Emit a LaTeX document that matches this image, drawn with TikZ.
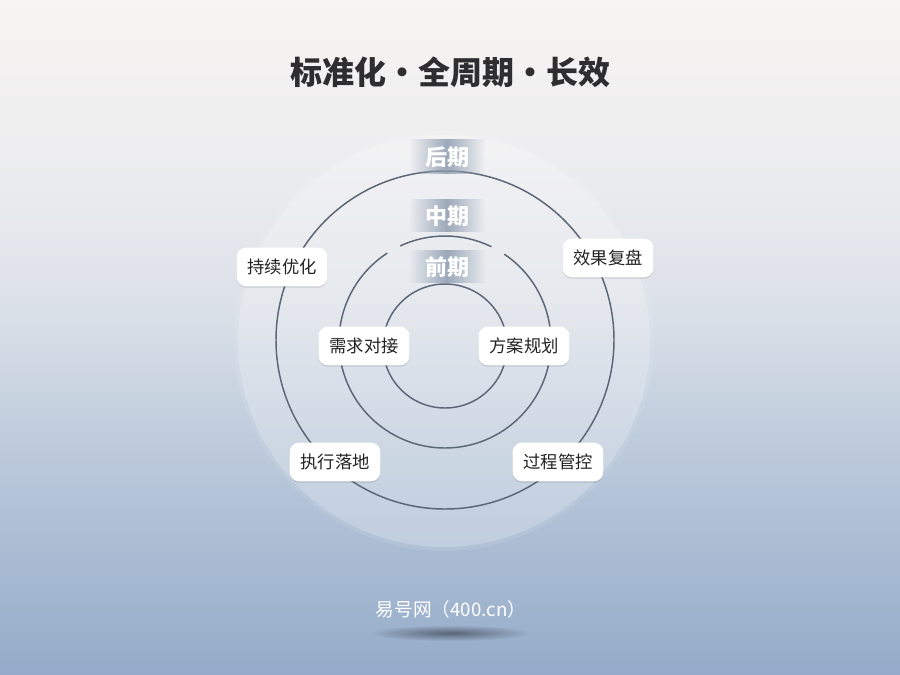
\documentclass[tikz,border=0pt]{standalone}
\usepackage{fontspec}
\newfontfamily\cjk{Noto Sans CJK SC}
\usetikzlibrary{shadows,fadings}
\definecolor{bgA}{HTML}{F7F4F2}
\definecolor{bgB}{HTML}{EEEEF0}
\definecolor{bgC}{HTML}{DDE2E9}
\definecolor{bgD}{HTML}{BCCADB}
\definecolor{bgE}{HTML}{94ABC9}
\definecolor{ringcol}{HTML}{5B6676}
\definecolor{bandcol}{HTML}{8E9CB0}
\definecolor{titlecol}{HTML}{2E2E30}
\definecolor{boxtext}{HTML}{222222}
\definecolor{shadowcol}{HTML}{3E4552}
\pgfdeclareverticalshading{bgsh}{100bp}{color(0bp)=(bgE); color(25bp)=(bgE); color(41.7bp)=(bgD); color(52.8bp)=(bgC); color(63.9bp)=(bgB); color(75bp)=(bgA); color(100bp)=(bgA)}
\tikzfading[name=bandfade, left color=transparent!100, right color=transparent!100, middle color=transparent!15]
\tikzfading[name=softblob, inner color=transparent!30, outer color=transparent!100]
\begin{document}
\begin{tikzpicture}[x=0.75pt,y=-0.75pt,
  ring/.style={draw=ringcol, line width=1.1pt},
  bandtxt/.style={font=\cjk\bfseries\fontsize{16.5}{19}\selectfont, text=white, inner sep=0pt},
  box/.style={rectangle, rounded corners=7pt, fill=white, minimum width=68pt, minimum height=29pt,
    inner sep=0pt, font=\cjk\fontsize{13}{15}\selectfont, text=boxtext,
    drop shadow={shadow xshift=0pt, shadow yshift=-1pt, opacity=0.12, fill=black}}]
\useasboundingbox (0,0) rectangle (900,675);
\shade[shading=bgsh] (0,0) rectangle (900,675);
% outer halo disc
\coordinate (c) at (444,341);
\fill[white, opacity=0.08] (c) circle[radius=210];
\fill[white, opacity=0.20] (c) circle[radius=206];
% rings
\coordinate (c3) at (445,340);
\coordinate (c2) at (445,342);
\coordinate (c1) at (445,346);
\draw[ring] (c3) circle[radius=169];
\draw[ring] (c2) ++(304:106) arc[start angle=304, end angle=597, radius=106];
\draw[ring] (c2) ++(245:106) arc[start angle=245, end angle=296, radius=106];
\draw[ring] (c1) circle[radius=62];
% stage bands
\fill[bandcol, path fading=bandfade] (447,157) +(-38,-18) rectangle +(38,17);
\fill[bandcol, path fading=bandfade] (447,216) +(-38,-17) rectangle +(38,16);
\fill[bandcol, path fading=bandfade] (447,267) +(-38,-17) rectangle +(38,16);
\node[bandtxt] (late) at (447,157) {后期};
\node[bandtxt] (mid) at (447,216) {中期};
\node[bandtxt] (early) at (447,267) {前期};
% boxes
\node[box] (b1) at (282,267) {持续优化};
\node[box] (b2) at (608,258) {效果复盘};
\node[box] (b3) at (364,346) {需求对接};
\node[box] (b4) at (524,346) {方案规划};
\node[box] (b5) at (335,462) {执行落地};
\node[box] (b6) at (558,462) {过程管控};
% title
\node[font=\cjk\bfseries\fontsize{24}{28}\selectfont, text=titlecol] (title) at (450,72) {标准化·全周期·长效};
% brand
\fill[shadowcol, path fading=softblob] (450,633) ellipse[x radius=80, y radius=8];
\node[font=\cjk\fontsize{14}{16}\selectfont, text=white] (brand) at (451,609) {易号网（400.cn）};
\end{tikzpicture}
\end{document}
